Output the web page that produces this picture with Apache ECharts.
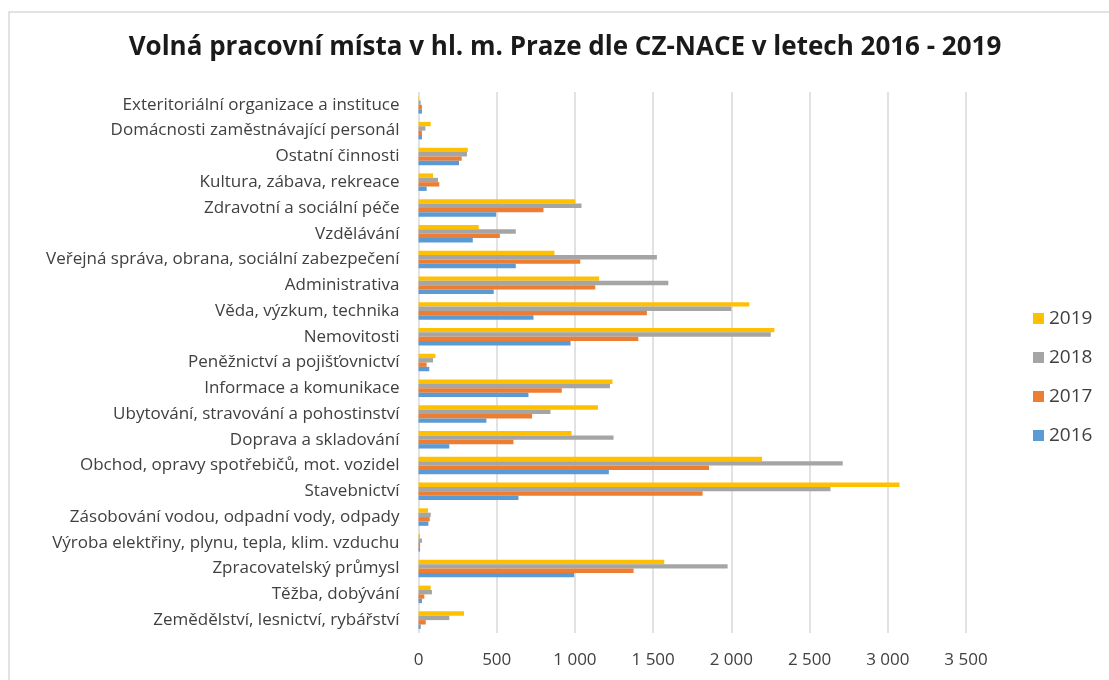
<!DOCTYPE html>
<html>
<head>
<meta charset="utf-8">
<script src="https://cdn.jsdelivr.net/npm/echarts@6/dist/echarts.min.js"></script>
<style>
  html, body { margin: 0; padding: 0; background: #fff; }
  #chart { width: 1109px; height: 680px; }
</style>
</head>
<body>
<div id="chart"></div>
<script>
// kategorie CZ-NACE, odspodu nahoru
const categories = [
  'Zemědělství, lesnictví, rybářství',
  'Těžba, dobývání',
  'Zpracovatelský průmysl',
  'Výroba elektřiny, plynu, tepla, klim. vzduchu',
  'Zásobování vodou, odpadní vody, odpady',
  'Stavebnictví',
  'Obchod, opravy spotřebičů, mot. vozidel',
  'Doprava a skladování',
  'Ubytování, stravování a pohostinství',
  'Informace a komunikace',
  'Peněžnictví a pojišťovnictví',
  'Nemovitosti',
  'Věda, výzkum, technika',
  'Administrativa',
  'Veřejná správa, obrana, sociální zabezpečení',
  'Vzdělávání',
  'Zdravotní a sociální péče',
  'Kultura, zábava, rekreace',
  'Ostatní činnosti',
  'Domácnosti zaměstnávající personál',
  'Exteritoriální organizace a instituce'
];

const years = ['2019', '2018', '2017', '2016'];

const v2016 = [14, 22, 995, 10, 63, 639, 1217, 197, 434, 703, 69, 972, 735, 481, 622, 347, 496, 52, 259, 22, 22];
const v2017 = [46, 37, 1375, 10, 72, 1816, 1857, 607, 726, 916, 52, 1405, 1460, 1130, 1034, 520, 799, 133, 276, 22, 22];
const v2018 = [197, 86, 1976, 22, 78, 2634, 2712, 1247, 844, 1224, 93, 2252, 2000, 1597, 1524, 622, 1042, 125, 310, 44, 14];
const v2019 = [291, 78, 1571, 10, 61, 3075, 2196, 978, 1147, 1240, 108, 2275, 2115, 1155, 869, 385, 1002, 93, 315, 78, 3];

const xTicks = { min: 0, max: 3500, interval: 500 };

const colors = { '2016': '#5B9BD5', '2017': '#ED7D31', '2018': '#A5A5A5', '2019': '#FFC000' };
const values = { '2016': v2016, '2017': v2017, '2018': v2018, '2019': v2019 };

const font = "'Open Sans', sans-serif";

// formát čísel s mezerou jako oddělovačem tisíců
function fmt(v) {
  return String(v).replace(/\B(?=(\d{3})+(?!\d))/g, ' ');
}

const chart = echarts.init(document.getElementById('chart'));

chart.setOption({
  animation: false,
  backgroundColor: '#fff',
  title: {
    text: 'Volná pracovní místa v hl. m. Praze dle CZ-NACE v letech 2016 - 2019',
    left: 560,
    top: 30,
    textAlign: 'center',
    textStyle: { fontFamily: font, fontWeight: 'bold', fontSize: 26, color: '#1a1a1a' }
  },
  graphic: [{
    type: 'rect',
    shape: { x: 9, y: 12, width: 1110, height: 700 },
    style: { fill: 'none', stroke: '#d9d9d9', lineWidth: 1.5 },
    silent: true
  }],
  legend: {
    orient: 'vertical',
    left: 1028,
    top: 304,
    data: years,
    itemWidth: 11,
    itemHeight: 11,
    itemGap: 20,
    icon: 'rect',
    textStyle: { fontFamily: font, fontSize: 19, color: '#404040' }
  },
  grid: { left: 418.5, right: 143, top: 92, bottom: 47, containLabel: false },
  xAxis: {
    type: 'value',
    min: xTicks.min,
    max: xTicks.max,
    interval: xTicks.interval,
    axisLine: { show: false },
    axisTick: { show: false },
    axisLabel: { margin: 19, fontFamily: font, fontSize: 17, color: '#404040', formatter: fmt },
    splitLine: { lineStyle: { color: '#d9d9d9', width: 1.5 } }
  },
  yAxis: {
    type: 'category',
    data: categories,
    axisLine: { show: false },
    axisTick: { show: false },
    axisLabel: { margin: 19, fontFamily: font, fontSize: 17, color: '#404040', interval: 0 }
  },
  series: years.map((y) => ({
    name: y,
    type: 'bar',
    data: values[y],
    itemStyle: { color: colors[y] },
    barGap: '0%',
    barCategoryGap: '32%'
  }))
});
</script>
</body>
</html>
